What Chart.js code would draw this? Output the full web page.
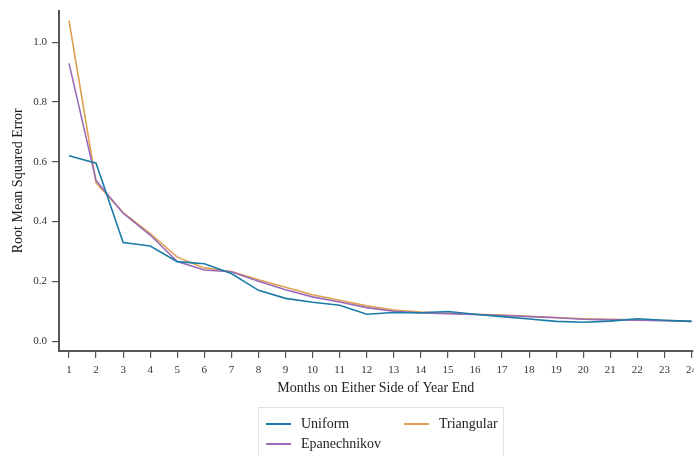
<!DOCTYPE html>
<html>
<head>
<meta charset="utf-8">
<script src="https://cdn.jsdelivr.net/npm/chart.js@4.4.0/dist/chart.umd.min.js"></script>
<style>
    body { margin: 0; background: #fff; }
    #wrap { position: relative; width: 694px; height: 456px; overflow: hidden; }
    #legend {
        position: absolute; left: 258px; top: 407px; width: 246px; height: 60px;
        border: 1px solid #e2e2e2; box-sizing: border-box;
        font-family: "Liberation Serif", "DejaVu Serif", serif; font-size: 14px; color: #222;
    }
    #legend .item { position: absolute; display: flex; align-items: center; }
    #legend .swatch { width: 25px; height: 2px; margin-right: 10px; }
</style>
</head>
<body>
<div id="wrap">
    <canvas id="rmseChart" width="703" height="456"></canvas>
    <div id="legend"></div>
</div>
<script>
// --- du lieu doc tu hinh ---
const months = [1, 2, 3, 4, 5, 6, 7, 8, 9, 10, 11, 12, 13, 14, 15, 16, 17, 18, 19, 20, 21, 22, 23, 24];
const yTicks = [0, 0.2, 0.4, 0.6, 0.8, 1.0];

const uniform = [0.620, 0.595, 0.330, 0.318, 0.266, 0.259, 0.226, 0.170, 0.143, 0.130, 0.120, 0.090,
                 0.096, 0.095, 0.099, 0.090, 0.082, 0.074, 0.066, 0.063, 0.067, 0.075, 0.070, 0.066];
const triangular = [1.072, 0.529, 0.430, 0.360, 0.281, 0.245, 0.233, 0.205, 0.180, 0.155, 0.137, 0.118,
                    0.104, 0.097, 0.093, 0.090, 0.087, 0.083, 0.079, 0.075, 0.073, 0.071, 0.069, 0.067];
const epanechnikov = [0.929, 0.537, 0.428, 0.355, 0.266, 0.238, 0.232, 0.200, 0.172, 0.148, 0.131, 0.112,
                      0.100, 0.094, 0.092, 0.089, 0.086, 0.082, 0.078, 0.073, 0.071, 0.070, 0.068, 0.066];

const serif = '"Liberation Serif", "DejaVu Serif", serif';
const axisColor = '#555';

function toPoints(values) {
    return values.map((v, i) => ({ x: months[i], y: v }));
}

const datasets = [
    { label: 'Uniform', data: toPoints(uniform), borderColor: '#1c7ca8' },
    { label: 'Epanechnikov', data: toPoints(epanechnikov), borderColor: '#9a6cb8' },
    { label: 'Triangular', data: toPoints(triangular), borderColor: '#e0a052' }
].map(ds => Object.assign(ds, { borderWidth: 1.6, pointRadius: 0, tension: 0, fill: false }));

const chart = new Chart(document.getElementById('rmseChart'), {
    type: 'line',
    data: { datasets: datasets },
    options: {
        responsive: false,
        animation: false,
        layout: { padding: { top: 2, right: 0, bottom: 55, left: 0 } },
        plugins: { legend: { display: false }, tooltip: { enabled: false } },
        scales: {
            x: {
                type: 'linear',
                min: 0.63,
                max: 24.04,
                afterBuildTicks: axis => { axis.ticks = months.map(m => ({ value: m })); },
                afterFit: axis => { axis.height = 50; },
                ticks: { color: '#333', font: { family: serif, size: 11 }, padding: 6, maxRotation: 0, autoSkip: false },
                grid: { drawOnChartArea: false, drawTicks: true, tickLength: 7, color: axisColor, lineWidth: 1.2 },
                border: { color: axisColor, width: 2 },
                title: { display: true, text: 'Months on Either Side of Year End', color: '#222',
                         font: { family: serif, size: 14 }, padding: { top: 0 } }
            },
            y: {
                min: -0.033,
                max: 1.106,
                afterBuildTicks: axis => { axis.ticks = yTicks.map(v => ({ value: v })); },
                afterFit: axis => { axis.width = 59; },
                ticks: { color: '#333', font: { family: serif, size: 11, lineHeight: 1 }, padding: 5,
                         callback: v => v.toFixed(1) },
                grid: { drawOnChartArea: false, drawTicks: true, tickLength: 7, color: axisColor, lineWidth: 1.2 },
                border: { color: axisColor, width: 2 },
                title: { display: true, text: 'Root Mean Squared Error', color: '#222',
                         font: { family: serif, size: 14 }, padding: { top: 10, bottom: 0 } }
            }
        }
    }
});

// chu thich HTML, 2 cot
const legendPos = {
    'Uniform': [7, 8],
    'Triangular': [145, 8],
    'Epanechnikov': [7, 28]
};
const legendEl = document.getElementById('legend');
chart.data.datasets.forEach(ds => {
    const item = document.createElement('div');
    item.className = 'item';
    item.style.left = legendPos[ds.label][0] + 'px';
    item.style.top = legendPos[ds.label][1] + 'px';
    item.innerHTML = `<span class="swatch" style="background:${ds.borderColor}"></span><span>${ds.label}</span>`;
    legendEl.appendChild(item);
});
</script>
</body>
</html>
